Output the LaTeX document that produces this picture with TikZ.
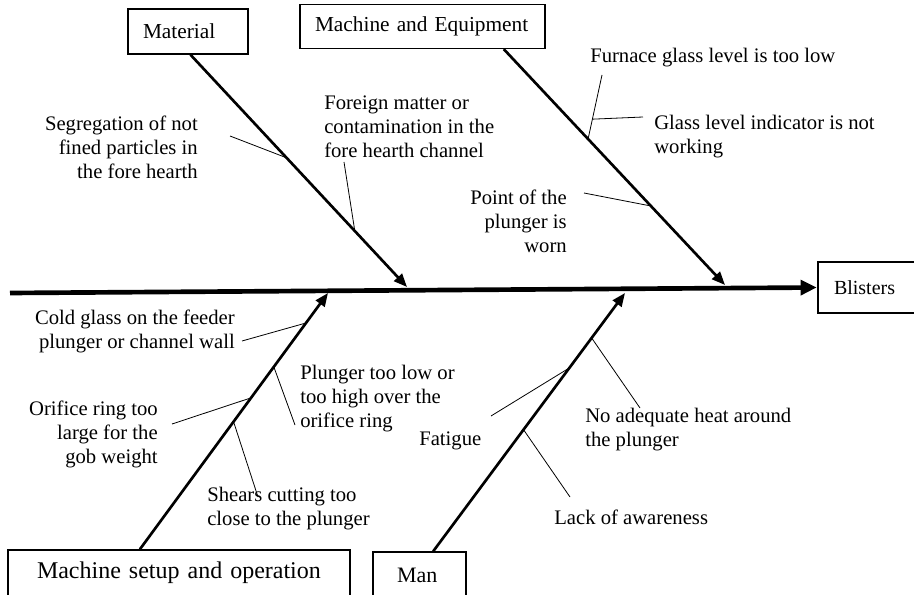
\documentclass[tikz,border=0pt]{standalone}
\usepackage{fontspec}
\setmainfont{Liberation Serif}
\usetikzlibrary{arrows.meta,calc}
\tikzstyle{catbox} = [draw=black, line width=1pt, rectangle, align=left, inner ysep=0pt]
\tikzstyle{cause} = [inner sep=0pt, font=\fontsize{15.5}{18}\selectfont]
\tikzstyle{spine} = [line width=3.5pt, -{Triangle[length=12pt,width=11pt]}]
\tikzstyle{bone} = [line width=2pt, -{Triangle[length=10pt,width=8pt]}]
\tikzstyle{twig} = [line width=0.6pt]
\newcommand{\ttl}[1]{\fontsize{#1}{#1}\selectfont}

\begin{document}
\begin{tikzpicture}[x=0.75pt,y=-0.75pt]
\useasboundingbox (0,0) rectangle (914,595);

% categories and effect
\node [catbox, text width=67.5pt, inner xsep=11.25pt, minimum height=33.75pt, font=\ttl{16}] (material) at (188,31.5) {Material};
\node [catbox, text width=161.25pt, inner xsep=11.25pt, minimum height=33pt, font=\ttl{16}] (machine) at (422.5,26.5) {Machine and Equipment};
\node [catbox, line width=2pt, text width=60pt, inner xsep=12pt, minimum height=38.25pt, font=\ttl{15}] (blisters) at (874,287.5) {Blisters};
\node [catbox, text width=213pt, inner xsep=21.75pt, minimum height=34.5pt, font=\ttl{18}] (setup) at (179,573) {Machine setup and operation};
\node [catbox, text width=33.75pt, inner xsep=18pt, minimum height=34.5pt, font=\ttl{16.5}] (man) at (419.5,575) {Man};

% spine
\coordinate (tail) at (10,293);
\draw [spine] (tail) -- (blisters.west);

% bones
\coordinate (matRoot) at ($(material.south west)!0.52!(material.south east)$);
\coordinate (matTip) at (407,287);
\coordinate (macRoot) at ($(machine.south west)!0.83!(machine.south east)$);
\coordinate (macTip) at (725,285);
\coordinate (setRoot) at ($(setup.north west)!0.386!(setup.north east)$);
\coordinate (setTip) at (328,293);
\coordinate (manRoot) at ($(man.north west)!0.645!(man.north east)$);
\coordinate (manTip) at (625,293);
\draw [bone] (matRoot) -- (matTip);
\draw [bone] (macRoot) -- (macTip);
\draw [bone] (setRoot) -- (setTip);
\draw [bone] (manRoot) -- (manTip);

% causes
\node [cause, anchor=east, align=right] (segreg) at (198,147) {Segregation of not\\fined particles in\\the fore hearth};
\node [cause, anchor=west, align=left] (foreign) at (324,127) {Foreign matter or\\contamination in the\\fore hearth channel};
\node [cause, anchor=west] (furnace) at (590,58) {Furnace glass level is too low};
\node [cause, anchor=west, align=left] (indicator) at (654,137) {Glass level indicator is not\\working};
\node [cause, anchor=east, align=right] (point) at (567,221) {Point of the\\plunger is\\worn};
\node [cause, anchor=east, align=right] (cold) at (235,331) {Cold glass on the feeder\\plunger or channel wall};
\node [cause, anchor=east, align=right] (orifice) at (158,434) {Orifice ring too\\large for the\\gob weight};
\node [cause, anchor=west, align=left] (plunger) at (300,399) {Plunger too low or\\too high over the\\orifice ring};
\node [cause, anchor=west, align=left] (shears) at (207,509) {Shears cutting too\\close to the plunger};
\node [cause, anchor=west] (fatigue) at (419,441) {Fatigue};
\node [cause, anchor=west, align=left] (heat) at (585,430) {No adequate heat around\\the plunger};
\node [cause, anchor=west] (lack) at (554,517) {Lack of awareness};

% twigs
\coordinate (segEnd) at (230,136);
\coordinate (forEnd) at (344,162);
\coordinate (furBase) at ($(macRoot)!0.381!(macTip)$);
\coordinate (furEnd) at (602,75);
\coordinate (indEnd) at (643,117);
\coordinate (ptEnd) at (584,193);
\coordinate (coldEnd) at (242,341);
\coordinate (oriEnd) at (172,424);
\coordinate (plgEnd) at (295,425);
\coordinate (shrEnd) at (258,497);
\coordinate (fatEnd) at (491,416);
\coordinate (heatEnd) at (640,408);
\coordinate (lackEnd) at (570,497);
\draw [twig] ($(matRoot)!0.444!(matTip)$) -- (segEnd);
\draw [twig] ($(matRoot)!0.759!(matTip)$) -- (forEnd);
\draw [twig] (furBase) -- (furEnd);
\draw [twig] ($(furBase)!0.31!(furEnd)$) -- (indEnd);
\draw [twig] ($(macRoot)!0.665!(macTip)$) -- (ptEnd);
\draw [twig] ($(setRoot)!0.883!(setTip)$) -- (coldEnd);
\draw [twig] ($(setRoot)!0.591!(setTip)$) -- (oriEnd);
\draw [twig] ($(setRoot)!0.712!(setTip)$) -- (plgEnd);
\draw [twig] ($(setRoot)!0.498!(setTip)$) -- (shrEnd);
\draw [twig] ($(manRoot)!0.710!(manTip)$) -- (fatEnd);
\draw [twig] ($(manRoot)!0.826!(manTip)$) -- (heatEnd);
\draw [twig] ($(manRoot)!0.471!(manTip)$) -- (lackEnd);
\end{tikzpicture}
\end{document}
